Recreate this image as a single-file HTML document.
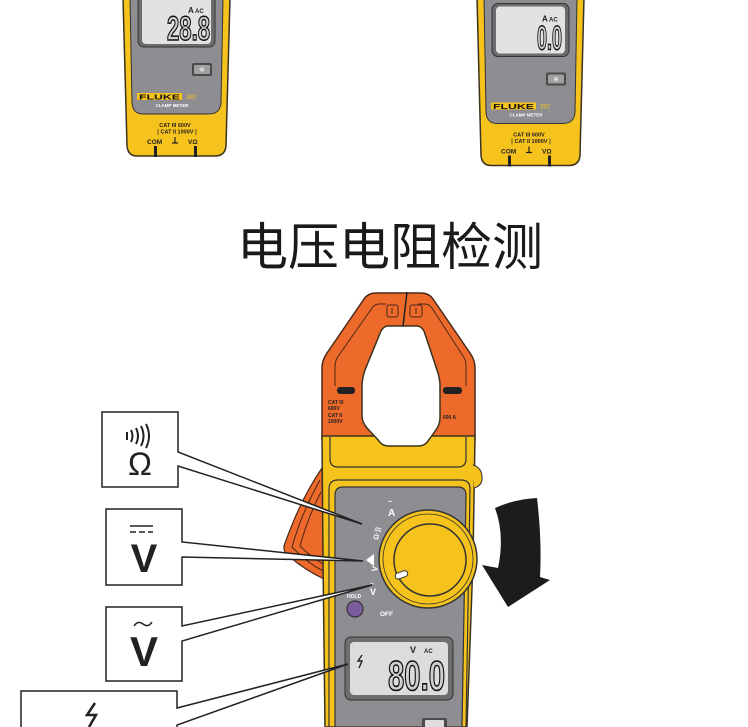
<!DOCTYPE html>
<html>
<head>
<meta charset="utf-8">
<style>
  html,body{margin:0;padding:0;background:#fff;}
  svg{display:block;}
  text{font-family:"Liberation Sans","Noto Sans CJK SC",sans-serif;}
</style>
</head>
<body>
<svg width="748" height="727" viewBox="0 0 748 727" xmlns="http://www.w3.org/2000/svg">
  <rect width="748" height="727" fill="#fff"/>

  <!-- ===== Top-left meter ===== -->
  <g>
    <path d="M123,-2 L230,-2 L226,146 Q225,156 215,156 L137,156 Q128,156 127,146 Z" fill="#f6c21c" stroke="#3b3320" stroke-width="1.5"/>
    <path d="M130,-2 L223,-2 L221,103 Q220,114 209,114 L143,114 Q133,114 132,103 Z" fill="#8e8e92" stroke="#333" stroke-width="1"/>
    <rect x="138" y="-6" width="77" height="53" rx="6" fill="#6c6c6e" stroke="#333"/>
    <rect x="142" y="-6" width="69" height="50" rx="4" fill="#e2e2e2"/>
    <text x="188" y="13" font-size="8" font-weight="bold" fill="#222">A</text>
    <text x="195" y="13" font-size="6" font-weight="bold" fill="#222">AC</text>
    <text x="167" y="40" font-size="34" textLength="43" lengthAdjust="spacingAndGlyphs" fill="#cfcfcf" stroke="#111" stroke-width="1.5" font-weight="bold">28.8</text>
    <rect x="192" y="63" width="20" height="13" rx="2" fill="#4a4a4a"/>
    <rect x="194" y="65" width="16" height="9" rx="1" fill="#a0a0a0"/>
    <text x="202" y="72.5" font-size="8" fill="#fff" text-anchor="middle" font-family="DejaVu Sans">✳</text>
    <rect x="137" y="93" width="45" height="7" fill="#f6c21c"/>
    <text x="139" y="99.3" font-size="7.5" font-weight="bold" textLength="41" lengthAdjust="spacingAndGlyphs" fill="#111">FLUKE</text>
    <text x="186" y="99" font-size="6" font-style="italic" fill="#f6c21c">392</text>
    <text x="172" y="107" font-size="4.5" font-weight="bold" fill="#fff" text-anchor="middle">CLAMP METER</text>
    <text x="175" y="127" font-size="5.5" font-weight="bold" text-anchor="middle" fill="#222">CAT III 600V</text>
    <text x="177" y="133.5" font-size="5.5" font-weight="bold" text-anchor="middle" fill="#222">CAT II 1000V</text>
    <path d="M158,129 L158,135 M196,129 L196,135" stroke="#333" stroke-width="0.7" fill="none"/>
    <text x="147" y="144" font-size="6.5" font-weight="bold" fill="#222">COM</text>
    <path d="M175,137 L175,143 M172,143 L178,143" stroke="#222" stroke-width="1.2" fill="none"/>
    <text x="188" y="144" font-size="6.5" font-weight="bold" fill="#222">VΩ</text>
    <rect x="154" y="146" width="3" height="11" fill="#222"/>
    <rect x="194" y="146" width="3" height="11" fill="#222"/>
  </g>

  <!-- ===== Top-right meter ===== -->
  <g transform="translate(354,9.5)">
    <path d="M123,-12 L230,-12 L226,146 Q225,156 215,156 L137,156 Q128,156 127,146 Z" fill="#f6c21c" stroke="#3b3320" stroke-width="1.5"/>
    <path d="M130,-12 L223,-12 L221,103 Q220,114 209,114 L143,114 Q133,114 132,103 Z" fill="#8e8e92" stroke="#333" stroke-width="1"/>
    <rect x="138" y="-6" width="77" height="53" rx="6" fill="#6c6c6e" stroke="#333"/>
    <rect x="142" y="-3" width="69" height="47" rx="4" fill="#e2e2e2"/>
    <text x="188" y="12" font-size="8" font-weight="bold" fill="#222">A</text>
    <text x="195" y="12" font-size="6" font-weight="bold" fill="#222">AC</text>
    <text x="183" y="40" font-size="34" textLength="25" lengthAdjust="spacingAndGlyphs" fill="#cfcfcf" stroke="#111" stroke-width="1.5" font-weight="bold">0.0</text>
    <rect x="192" y="63" width="20" height="13" rx="2" fill="#4a4a4a"/>
    <rect x="194" y="65" width="16" height="9" rx="1" fill="#a0a0a0"/>
    <text x="202" y="72.5" font-size="8" fill="#fff" text-anchor="middle" font-family="DejaVu Sans">✳</text>
    <rect x="137" y="93" width="45" height="7" fill="#f6c21c"/>
    <text x="139" y="99.3" font-size="7.5" font-weight="bold" textLength="41" lengthAdjust="spacingAndGlyphs" fill="#111">FLUKE</text>
    <text x="186" y="99" font-size="6" font-style="italic" fill="#f6c21c">392</text>
    <text x="172" y="107" font-size="4.5" font-weight="bold" fill="#fff" text-anchor="middle">CLAMP METER</text>
    <text x="175" y="127" font-size="5.5" font-weight="bold" text-anchor="middle" fill="#222">CAT III 600V</text>
    <text x="177" y="133.5" font-size="5.5" font-weight="bold" text-anchor="middle" fill="#222">CAT II 1000V</text>
    <path d="M158,129 L158,135 M196,129 L196,135" stroke="#333" stroke-width="0.7" fill="none"/>
    <text x="147" y="144" font-size="6.5" font-weight="bold" fill="#222">COM</text>
    <path d="M175,137 L175,143 M172,143 L178,143" stroke="#222" stroke-width="1.2" fill="none"/>
    <text x="188" y="144" font-size="6.5" font-weight="bold" fill="#222">VΩ</text>
    <rect x="154" y="146" width="3" height="11" fill="#222"/>
    <rect x="194" y="146" width="3" height="11" fill="#222"/>
  </g>

  <!-- ===== Title ===== -->
  <text x="390" y="265" font-size="51" text-anchor="middle" fill="#1a1a1a" font-family="'Liberation Sans','Noto Sans CJK SC',sans-serif">电压电阻检测</text>

  <!-- ===== Main meter ===== -->
  <!-- trigger fin -->
  <path d="M322,468 Q300,500 284,546 Q283,552 290,557 Q305,570 324,579 Z" fill="#ee6a2a" stroke="#4a2a1a" stroke-width="1.2"/>
  <path d="M320,480 Q302,512 292,547 Q306,562 323,571" fill="none" stroke="#4a2a1a" stroke-width="1"/>
  <path d="M321,492 Q308,517 300,546 Q311,557 323,564" fill="none" stroke="#4a2a1a" stroke-width="1"/>

  <!-- jaw -->
  <path d="M322,440 L322,368 Q322,360 327,353 L364,299 Q368,293 376,293 L421,293 Q429,293 433,299 L470,353 Q475,360 475,368 L475,440 Z" fill="#ee6a2a" stroke="#4a2a1a" stroke-width="1.5"/>
  <path d="M386,304 L379,304 Q375,304 372,308 L337,358 Q335,362 335,368 L335,386" fill="none" stroke="#4a2a1a" stroke-width="1"/>
  <path d="M418,304 L425,304 Q429,304 432,308 L463,356 Q466,360 466,366 L466,386" fill="none" stroke="#4a2a1a" stroke-width="1"/>
  <rect x="387" y="305" width="11" height="12" rx="2" fill="none" stroke="#4a2a1a" stroke-width="1"/>
  <rect x="410" y="305" width="12" height="12" rx="2" fill="none" stroke="#4a2a1a" stroke-width="1"/>
  <path d="M392,308 L392,314 M416,308 L416,314" stroke="#4a2a1a" stroke-width="1"/>
  <rect x="337" y="387" width="18" height="7" rx="3" fill="#222"/>
  <rect x="443" y="387" width="19" height="7" rx="3" fill="#222"/>
  <text x="328" y="404" font-size="5" font-weight="bold" fill="#222">CAT III</text>
  <text x="328" y="410" font-size="5" font-weight="bold" fill="#222">600V</text>
  <text x="328" y="417" font-size="5" font-weight="bold" fill="#222">CAT II</text>
  <text x="328" y="423" font-size="5" font-weight="bold" fill="#222">1000V</text>
  <text x="443" y="419" font-size="5" font-weight="bold" fill="#222">600 A</text>

  <!-- body -->
  <path d="M322,436 L475,436 L473,560 L467,727 L325,727 L323,560 Z" fill="#f6c21c" stroke="#3b3320" stroke-width="1.5"/>
  <path d="M473,465 Q483,468 482,480 Q481,486 474,488" fill="#f6c21c" stroke="#333" stroke-width="1"/>
  <path d="M330,437 L330,459 Q330,467 338,467 L458,467 Q466,467 466,459 L466,437" fill="none" stroke="#333" stroke-width="1.2"/>
  <path d="M329,727 L329,489 Q329,480 338,480 L461,480 Q470,480 470,489 L466,727" fill="none" stroke="#333" stroke-width="1.2"/>
  <path d="M335,727 L335,495 Q335,487 343,487 L458,487 Q466,487 466,495 L462,727 Z" fill="#8e8e92" stroke="#333" stroke-width="1.2"/>

  <!-- hole -->
  <path d="M388,326 L417,326 Q421,326 424,331 L437,370 Q440,378 440,386 L440,418 Q440,424 436,430 L428,441 Q425,446 418,446 L389,446 Q382,446 379,441 L367,428 Q362,422 362,416 L362,386 Q362,378 365,370 L381,331 Q384,326 388,326 Z" fill="#fff" stroke="#3b3320" stroke-width="1.5"/>
  <path d="M407,292 L403,326" stroke="#222" stroke-width="1.5"/>

  <!-- knob -->
  <circle cx="428" cy="559" r="49" fill="#f6c21c" stroke="#333" stroke-width="1.5"/>
  <circle cx="428" cy="559" r="45" fill="none" stroke="#333" stroke-width="0.8"/>
  <circle cx="430" cy="560" r="36" fill="#f6c21c" stroke="#333" stroke-width="1.5"/>
  <rect x="395" y="572" width="13" height="6" rx="3" fill="#fff" stroke="#333" stroke-width="1" transform="rotate(-20 401 575)"/>

  <!-- panel labels -->
  <text x="388" y="504" font-size="7" font-weight="bold" fill="#fff">~</text>
  <text x="388" y="516" font-size="10" font-weight="bold" fill="#fff">A</text>
  <text x="0" y="0" font-size="7" font-weight="bold" fill="#fff" transform="translate(378,540) rotate(-80)">Ω·))</text>
  <path d="M366,560 L374,554 L374,566 Z" fill="#fff"/>
  <text x="0" y="0" font-size="8" font-weight="bold" fill="#fff" transform="translate(377,572) rotate(-80)">V</text>
  <text x="370" y="586" font-size="6" font-weight="bold" fill="#fff">~</text>
  <text x="370" y="595" font-size="9" font-weight="bold" fill="#fff">V</text>
  <text x="347" y="598" font-size="5" font-weight="bold" fill="#fff">HOLD</text>
  <circle cx="355" cy="609" r="8" fill="#7b5c9c" stroke="#333" stroke-width="1.2"/>
  <text x="380" y="616" font-size="6.5" font-weight="bold" fill="#fff">OFF</text>

  <!-- main LCD -->
  <rect x="345" y="637" width="108" height="63" rx="6" fill="#6e6e6e" stroke="#333" stroke-width="1"/>
  <rect x="350" y="642" width="98" height="53" rx="4" fill="#dcdcdc"/>
  <text x="410" y="653" font-size="9" font-weight="bold" fill="#222">V</text>
  <text x="424" y="653" font-size="6" font-weight="bold" fill="#222">AC</text>
  <path d="M362,655 L358,661 L362,661 L359,668" fill="none" stroke="#222" stroke-width="1.4"/>
  <text x="388" y="690" font-size="42" textLength="57" lengthAdjust="spacingAndGlyphs" fill="#cfcfcf" stroke="#111" stroke-width="1.6" font-weight="bold">80.0</text>
  <rect x="422" y="718" width="25" height="14" rx="2" fill="#4a4a4a"/>
  <rect x="425" y="720" width="19" height="10" rx="1" fill="#ddd"/>

  <!-- ===== Callouts ===== -->
  <g fill="#fff" stroke="#222" stroke-width="1.5" stroke-linejoin="miter">
    <path d="M102,412 L178,412 L178,452 L362,524 L178,466 L178,487 L102,487 Z"/>
    <path d="M106,509 L182,509 L182,542 L363,561 L182,557 L182,585 L106,585 Z"/>
    <path d="M106,607 L182,607 L182,626 L372,585 L182,641 L182,681 L106,681 Z"/>
    <path d="M21,691 L177,691 L177,708 L348,664 L177,725 L177,740 L21,740 Z"/>
  </g>

  <!-- box 1: continuity / ohm -->
  <g fill="none" stroke="#222" stroke-width="2">
    <path d="M127,432 L127,440"/>
    <path d="M131,430 Q134,436 131,442"/>
    <path d="M136,428 Q140,436 136,444"/>
    <path d="M141,426 Q146,436 141,446"/>
    <path d="M146,424 Q152,436 146,448"/>
  </g>
  <text x="140" y="475" font-size="32" text-anchor="middle" fill="#222">Ω</text>

  <!-- box 2: DC V -->
  <path d="M130,526 L153,526" stroke="#222" stroke-width="1.5"/>
  <path d="M130,532 L136,532 M139,532 L145,532 M148,532 L153,532" stroke="#222" stroke-width="1.5"/>
  <text x="144" y="572" font-size="40" font-weight="bold" text-anchor="middle" fill="#222">V</text>

  <!-- box 3: AC V -->
  <path d="M134,626 Q138,620 143,624 Q148,628 152,622" fill="none" stroke="#222" stroke-width="1.5"/>
  <text x="144" y="666" font-size="42" font-weight="bold" text-anchor="middle" fill="#222">V</text>

  <!-- box 4: lightning -->
  <path d="M95,703 L87,715 L96,715 L89,727" fill="none" stroke="#222" stroke-width="2.5"/>

  <!-- ===== Big arrow ===== -->
  <path d="M495,508 Q515,499 537,498 Q542,540 540,577 L550,580 L508,607 L482,565 L498,568 Q505,535 495,508 Z" fill="#1c1c1c"/>
</svg>
</body>
</html>
